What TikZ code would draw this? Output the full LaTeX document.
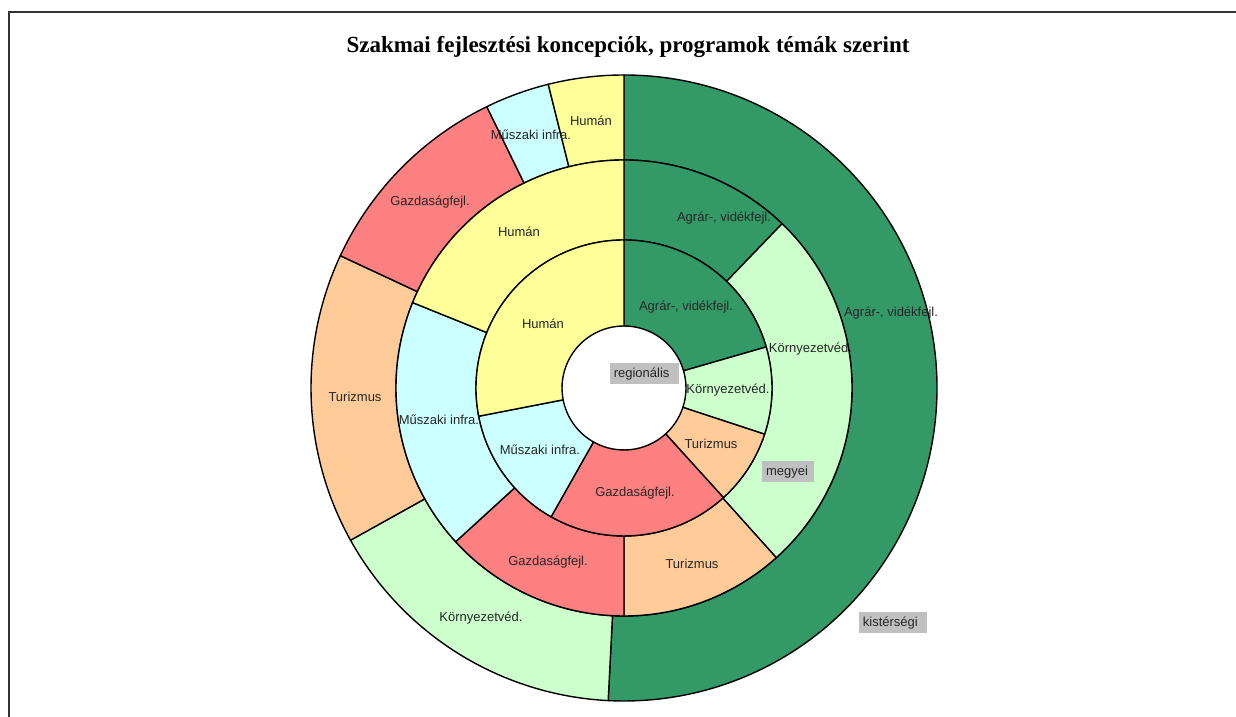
\documentclass[tikz,border=0pt]{standalone}
\usepackage{fontspec}
\setmainfont{Liberation Serif}
\newfontfamily\arialf{Liberation Sans}
\definecolor{agrar}{HTML}{339966}
\definecolor{kornyez}{HTML}{CCFFCC}
\definecolor{turiz}{HTML}{FFCC99}
\definecolor{gazd}{HTML}{FF8080}
\definecolor{muszaki}{HTML}{CCFFFF}
\definecolor{human}{HTML}{FFFF99}
\definecolor{serbox}{HTML}{C0C0C0}
\newcommand\ringseg[5]{%
  \filldraw[fill=#5, segline] ([shift={(C)}]#3:#2bp) arc[start angle=#3, end angle=#4, radius=#2bp]
    -- ([shift={(C)}]#4:#1bp) arc[start angle=#4, end angle=#3, radius=#1bp] -- cycle;}
\tikzset{
  segline/.style={draw=black, line width=1.4bp, line join=round},
  dlab/.style={font=\arialf\fontsize{13bp}{15bp}\selectfont, inner sep=0pt, anchor=base, text=black!85},
  serlab/.style={font=\arialf\fontsize{13bp}{15bp}\selectfont, fill=serbox, inner xsep=4bp, inner ysep=0pt, minimum height=21bp, align=left, text=black!85},
  framel/.style={draw=black!80, line width=2bp},
  titlef/.style={font=\bfseries\fontsize{23bp}{26bp}\selectfont, inner sep=0pt, anchor=base}
}
\begin{document}
\begin{tikzpicture}[x=1bp, y=1bp]
\useasboundingbox (0,0) rectangle (1236,717);
\fill[white] (0,0) rectangle (1236,717);
\draw[framel] (1236,705) -- (9,705) -- (9,0);
\coordinate (C) at (624,329);
% outer ring: kistérségi
\ringseg{228}{313}{90}{-92.9}{agrar}
\ringseg{228}{313}{-92.9}{-150.9}{kornyez}
\ringseg{228}{313}{-150.9}{-205}{turiz}
\ringseg{228}{313}{-205}{-244}{gazd}
\ringseg{228}{313}{-244}{-256}{muszaki}
\ringseg{228}{313}{-256}{-270}{human}
% middle ring: megyei
\ringseg{148}{228}{90}{46.1}{agrar}
\ringseg{148}{228}{46.1}{-48.1}{kornyez}
\ringseg{148}{228}{-48.1}{-90}{turiz}
\ringseg{148}{228}{-90}{-137.6}{gazd}
\ringseg{148}{228}{-137.6}{-202}{muszaki}
\ringseg{148}{228}{-202}{-270}{human}
% inner ring: regionális
\ringseg{62}{148}{90}{16.1}{agrar}
\ringseg{62}{148}{16.1}{-18.2}{kornyez}
\ringseg{62}{148}{-18.2}{-47.8}{turiz}
\ringseg{62}{148}{-47.8}{-119.5}{gazd}
\ringseg{62}{148}{-119.5}{-169}{muszaki}
\ringseg{62}{148}{-169}{-270}{human}
% title
\node[titlef] (title) at (628,664) {Szakmai fejlesztési koncepciók, programok témák szerint};
% outer labels
\node[dlab] (oAgr) at (891,400.5) {Agrár-, vidékfejl.};
\node[dlab] (oHum) at (591,591.5) {Humán};
\node[dlab] (oMus) at (531,577.5) {Műszaki infra.};
\node[dlab] (oGaz) at (430,511.5) {Gazdaságfejl.};
\node[dlab] (oTur) at (355,315.5) {Turizmus};
\node[dlab] (oKor) at (481,95.5) {Környezetvéd.};
% middle labels
\node[dlab] (mAgr) at (724,495.5) {Agrár-, vidékfejl.};
\node[dlab] (mKor) at (810.5,364.5) {Környezetvéd.};
\node[dlab] (mTur) at (692,148.5) {Turizmus};
\node[dlab] (mGaz) at (548,151.5) {Gazdaságfejl.};
\node[dlab] (mMus) at (439,292.5) {Műszaki infra.};
\node[dlab] (mHum) at (519,480.5) {Humán};
% inner labels
\node[dlab] (iAgr) at (686,406.5) {Agrár-, vidékfejl.};
\node[dlab] (iKor) at (728,323.5) {Környezetvéd.};
\node[dlab] (iTur) at (711,268.5) {Turizmus};
\node[dlab] (iGaz) at (635,220.5) {Gazdaságfejl.};
\node[dlab] (iMus) at (540,262.5) {Műszaki infra.};
\node[dlab] (iHum) at (543,388.5) {Humán};
% series labels
\node[serlab, text width=61bp] (sReg) at (644.3,343) {regionális};
\node[serlab, text width=44bp] (sMeg) at (788,245) {megyei};
\node[serlab, text width=60bp] (sKis) at (892.9,94) {kistérségi};
\end{tikzpicture}
\end{document}
